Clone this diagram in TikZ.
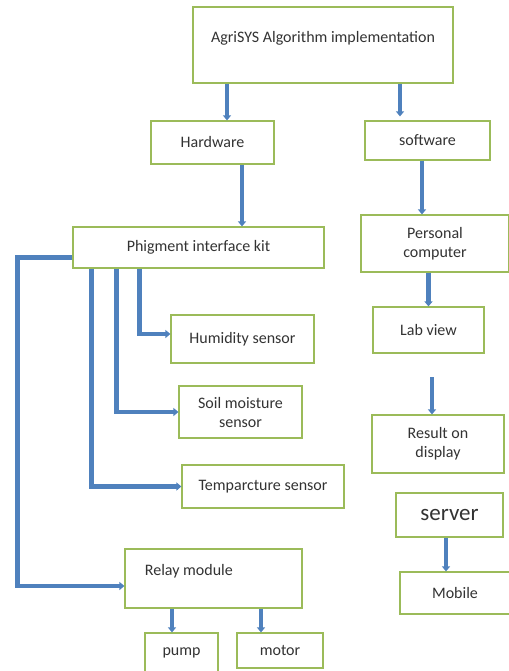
\documentclass[tikz,border=0pt]{standalone}
\usepackage{fontspec}
\setmainfont{Carlito}
\usepackage{tikz}
\usetikzlibrary{arrows.meta}

\definecolor{boxGreen}{RGB}{155,187,89}
\definecolor{arrowBlue}{RGB}{79,129,189}

\begin{document}
\begin{tikzpicture}[%%
  x=1pt,y=-1pt,%%
  textStyle/.style={font=\fontsize{16}{19}\selectfont,text=black!80},%%
  boxStyle/.style={draw=boxGreen,line width=1.2pt,fill=white,inner sep=2pt,%%
    align=center,textStyle},%%
  arrowStyle/.style={-{Triangle[length=5pt,width=8pt]},draw=arrowBlue,%%
    line width=4.5pt},%%
  elbowStyle/.style={arrowStyle}%%
]
%%
\useasboundingbox (0,0) rectangle (508,671);
%%
%% The top box and the two branches.
\node[boxStyle,minimum width=260pt,minimum height=76pt,text depth=16pt] (topBox) at (323,45)
  {AgriSYS Algorithm implementation};
\node[boxStyle,minimum width=123pt,minimum height=43pt] (hardwareBox) at (212.5,142.5) {Hardware};
\node[boxStyle,minimum width=125pt,minimum height=39pt] (softwareBox) at (427.5,140.5) {software};
%%
%% The hardware side.
\node[boxStyle,minimum width=251pt,minimum height=41pt] (kitBox) at (198.5,247.5)
  {Phigment interface kit};
\node[boxStyle,minimum width=143pt,minimum height=48pt] (humidityBox) at (242.5,339) {Humidity sensor};
\node[boxStyle,minimum width=123pt,minimum height=52pt] (soilBox) at (240.5,412) {Soil moisture\\sensor};
\node[boxStyle,minimum width=162pt,minimum height=43pt] (tempBox) at (263,486.5) {Temparcture sensor};
\node[boxStyle,minimum width=177pt,minimum height=59pt,%%
  label={[textStyle,anchor=west,xshift=17pt,yshift=-23pt]north west:Relay module}]
  (relayBox) at (213.5,578.5) {};
\node[boxStyle,minimum width=73pt,minimum height=40pt] (pumpBox) at (181.5,653) {pump};
\node[boxStyle,minimum width=86pt,minimum height=35pt] (motorBox) at (280,650.5) {motor};
%%
%% The software side.
\node[boxStyle,minimum width=148pt,minimum height=57pt] (pcBox) at (435,243.5) {Personal\\computer};
\node[boxStyle,minimum width=111pt,minimum height=46pt] (labBox) at (428.5,330) {Lab view};
\node[boxStyle,minimum width=132pt,minimum height=58pt] (resultBox) at (438,444) {Result on\\display};
\node[boxStyle,minimum width=107pt,minimum height=44pt,font=\fontsize{23}{26}\selectfont] (serverBox) at (449.5,515) {server};
\node[boxStyle,minimum width=110pt,minimum height=42pt] (mobileBox) at (455,593) {Mobile};
%%
%% Free end of the arrow above the result box.
\coordinate (resultTail) at (432,377);
%%
%% Vertical arrows.
\draw[arrowStyle] ([xshift=14.5pt]hardwareBox.north |- topBox.south) -- ([xshift=14.5pt]hardwareBox.north);
\draw[arrowStyle] ([xshift=-27.5pt]softwareBox.north |- topBox.south) -- ([xshift=-27.5pt,yshift=4pt]softwareBox.north);
\draw[arrowStyle] ([xshift=29.5pt]hardwareBox.south) -- ([xshift=29.5pt]hardwareBox.south |- kitBox.north);
\draw[arrowStyle] ([xshift=-5.5pt]softwareBox.south) -- ([xshift=-5.5pt]softwareBox.south |- pcBox.north);
\draw[arrowStyle] (pcBox.south -| labBox.north) -- (labBox.north);
\draw[arrowStyle] (resultTail) -- (resultTail |- resultBox.north);
\draw[arrowStyle] ([xshift=-3.5pt]serverBox.south) -- ([xshift=-3.5pt]serverBox.south |- mobileBox.north);
\draw[arrowStyle] ([xshift=-9.5pt]pumpBox.north |- relayBox.south) -- ([xshift=-9.5pt]pumpBox.north);
\draw[arrowStyle] ([xshift=-19pt]motorBox.north |- relayBox.south) -- ([xshift=-19pt]motorBox.north);
%%
%% Elbow arrows from the interface kit.
\draw[elbowStyle] ([yshift=-10pt]kitBox.west) -| ([xshift=-55pt,yshift=-7.5pt]kitBox.west |- relayBox.west) -- ([yshift=-7.5pt]relayBox.west);
\draw[elbowStyle] ([xshift=19pt]kitBox.south west) |- (tempBox.west);
\draw[elbowStyle] ([xshift=44pt]kitBox.south west) |- (soilBox.west);
\draw[elbowStyle] ([xshift=67pt]kitBox.south west) |- ([yshift=5pt]humidityBox.west);
\end{tikzpicture}
\end{document}
